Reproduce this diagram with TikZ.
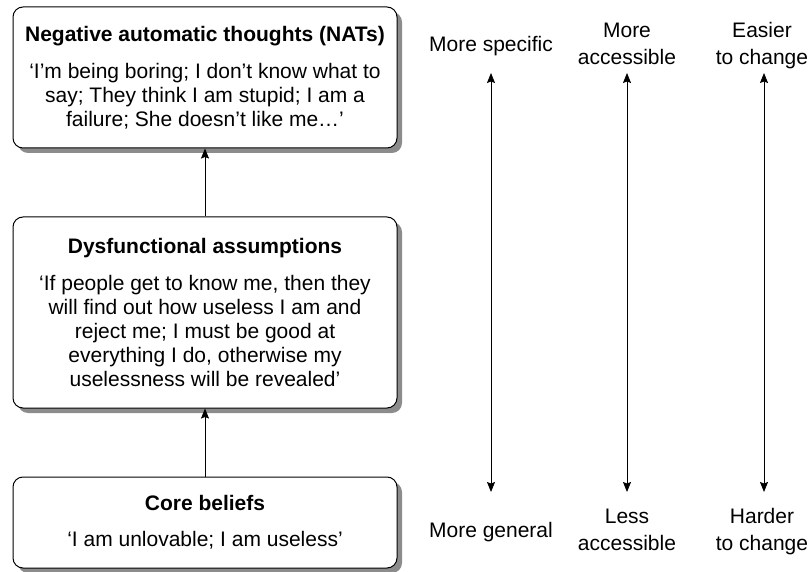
\documentclass[tikz,border=0pt]{standalone}
\usepackage{fontspec}
\setmainfont{Liberation Sans}
\usetikzlibrary{positioning,shadows,arrows.meta}

\begin{document}
\begin{tikzpicture}[x=1pt,y=-1pt,
  level/.style={draw, line width=1pt, rounded corners=10pt, fill=white, minimum width=384pt, align=center, inner sep=0pt, font=\fontsize{21}{24}\selectfont, drop shadow={shadow xshift=5pt, shadow yshift=-5pt, fill=black!45, opacity=1}},
  side/.style={align=center, inner sep=0pt, font=\fontsize{21}{27}\selectfont},
  arr/.style={line width=0.9pt, -{Stealth[length=10pt,width=8pt,inset=1.5pt]}},
  twoarr/.style={line width=0.9pt, {Stealth[length=10pt,width=8pt,inset=1.5pt]}-{Stealth[length=10pt,width=8pt,inset=1.5pt]}}]

 \useasboundingbox (0,0) rectangle (811,572);

 %Coordinates
 \foreach \name/\x in {specific/491,access/627,change/764}{
   \coordinate (\name top) at (\x,73);
   \coordinate (\name bottom) at (\x,492);
 }

 %Levels
 \node (NATs) [level, minimum height=141pt] at (205,77.5) {\textbf{Negative automatic thoughts (NATs)}\\[13pt]‘I’m being boring; I don’t know what to\\say; They think I am stupid; I am a\\failure; She doesn’t like me…’};

 \node (assumptions) [level, minimum height=191pt] at (205,312.5) {\textbf{Dysfunctional assumptions}\\[13pt]‘If people get to know me, then they\\will find out how useless I am and\\reject me; I must be good at\\everything I do, otherwise my\\uselessness will be revealed’};

 \node (beliefs) [level, minimum height=91pt] at (205,522.5) {\textbf{Core beliefs}\\[12pt]‘I am unlovable; I am useless’};

 %Names
 \node (moreSpecific) [side, anchor=base] at (491,52) {More specific};
 \node (moreAccess) [side, anchor=base] at (627,65) {More\\accessible};
 \node (easier) [side, anchor=base] at (762,65) {Easier\\to change};

 \node (moreGeneral) [side, anchor=base] at (491,537) {More general};
 \node (lessAccess) [side, anchor=base] at (627,550) {Less\\accessible};
 \node (harder) [side, anchor=base] at (762,550) {Harder\\to change};

 %Arrows
 \draw[arr] (beliefs) -- (assumptions);
 \draw[arr] (assumptions) -- (NATs);

 \foreach \name in {specific,access,change}
  \draw[twoarr] (\name bottom) -- (\name top);

\end{tikzpicture}
\end{document}
